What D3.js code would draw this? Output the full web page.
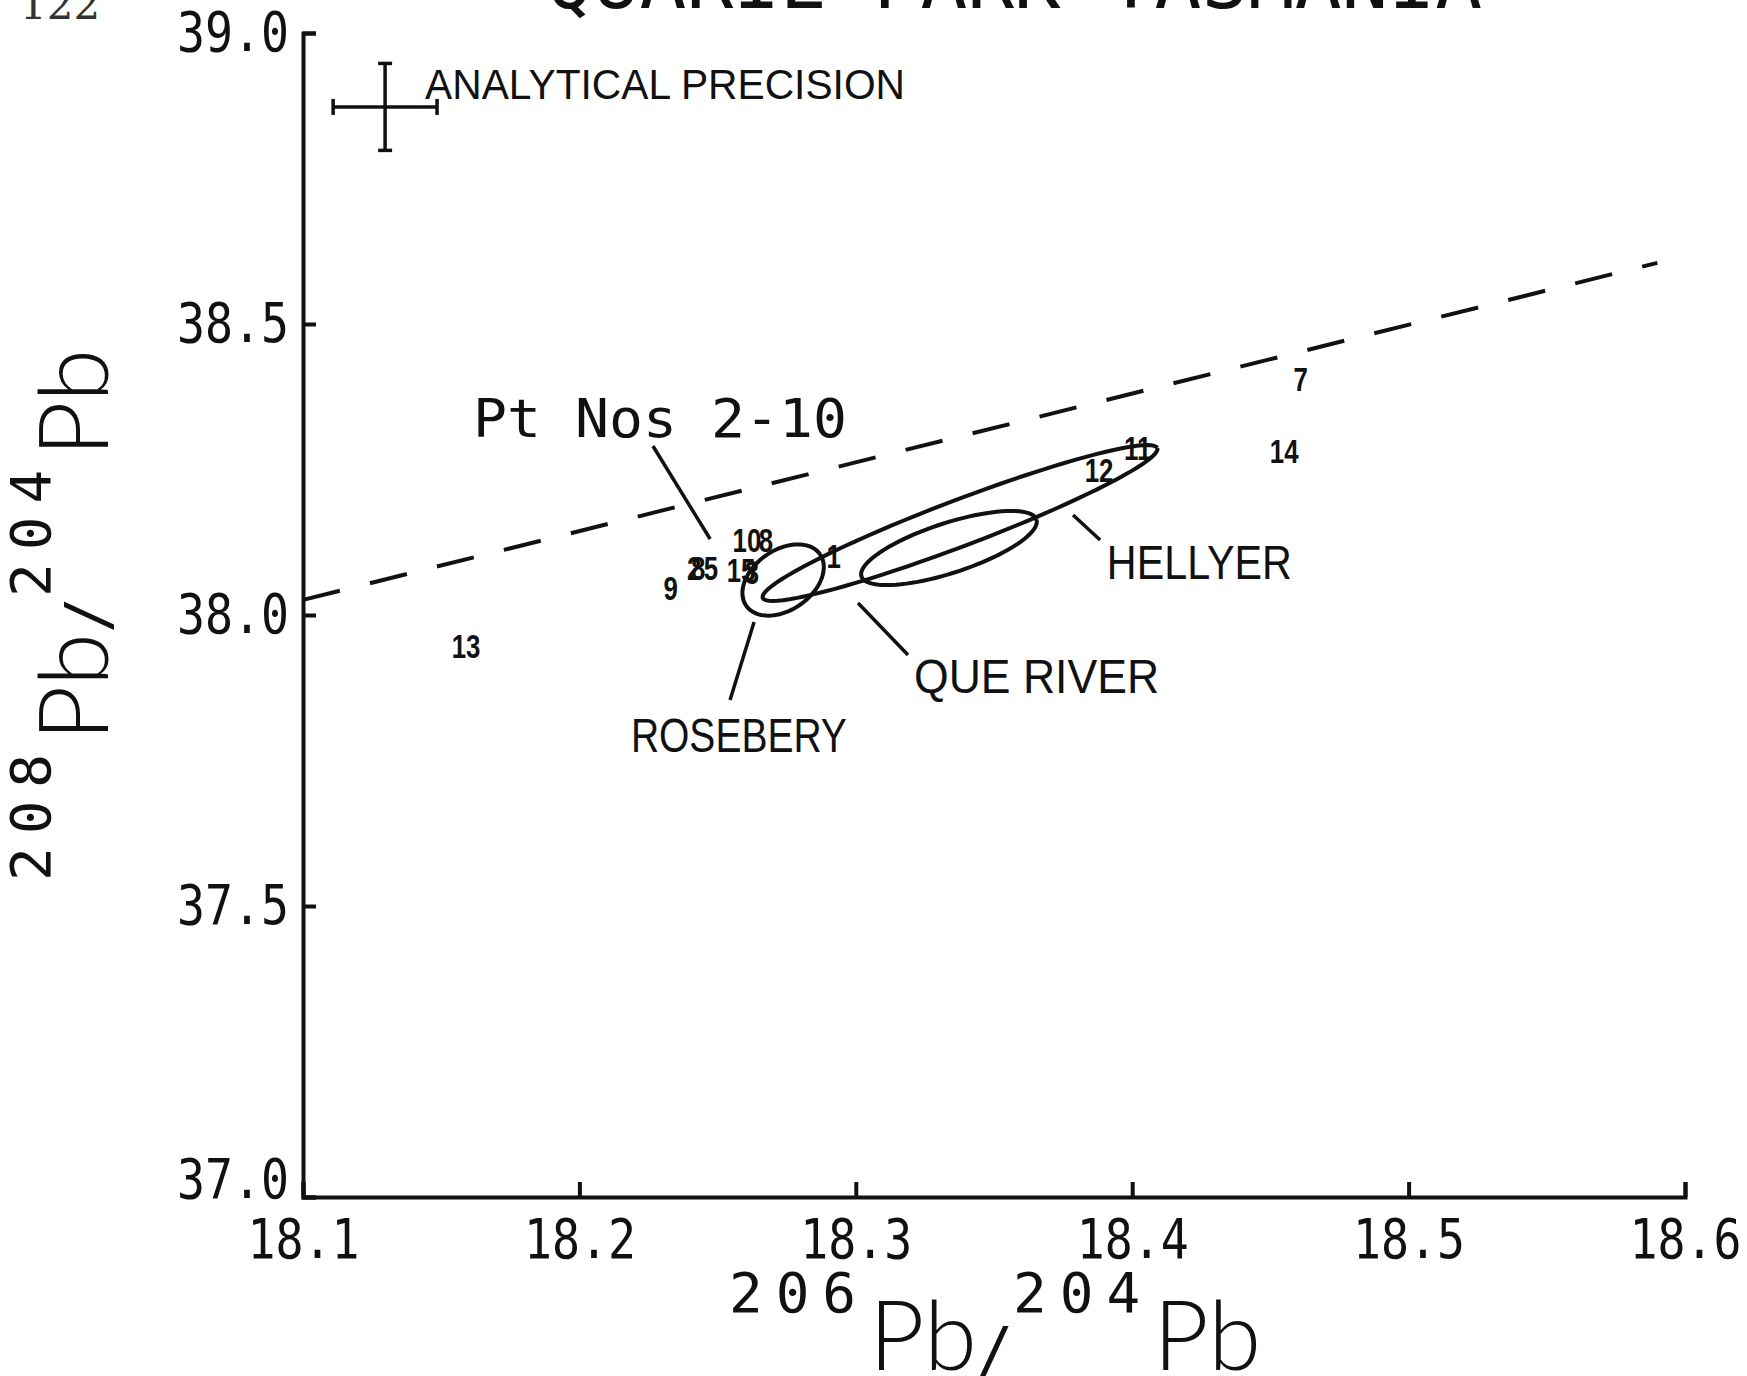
<!DOCTYPE html>
<html>
<head>
<meta charset="utf-8">
<script src="https://cdn.jsdelivr.net/npm/d3@7"></script>
<style>
  html, body { margin: 0; padding: 0; background: #fff; }
  svg { display: block; }
</style>
</head>
<body>
<svg id="chart" width="1747" height="1376"></svg>
<script>
// 208Pb/204Pb vs 206Pb/204Pb, scanned plotter figure

const xTicks = [18.1, 18.2, 18.3, 18.4, 18.5, 18.6]
const yTicks = [37.0, 37.5, 38.0, 38.5, 39.0]

// samples are plotted as their own numbers
const sampleLabels = ['7', '14', '11', '12', '13', '9', '2', '8', '5', '15', '3', '10', '8', '1']
const sampleX = [18.461, 18.455, 18.402, 18.388, 18.159, 18.233, 18.2415, 18.243, 18.2476, 18.2585, 18.2624, 18.2606, 18.2675, 18.292]
const sampleY = [38.406, 38.282, 38.287, 38.249, 37.947, 38.046, 38.081, 38.081, 38.081, 38.077, 38.074, 38.129, 38.129, 38.101]

// deposit fields: centre + major / minor semi-axes, in ratio units
const fieldNames = ['ROSEBERY', 'QUE RIVER', 'HELLYER']
const fieldCx = [18.2737, 18.3337, 18.3377]
const fieldCy = [38.0601, 38.1151, 38.1581]
const fieldMajor = [[0.01334, 0.04435], [0.03166, 0.04885], [0.07138, 0.12869]]
const fieldMinor = [[0.00623, -0.04222], [0.0028, -0.04086], [0.00296, -0.03694]]

// dashed reference line
const refLineX = [18.1, 18.59]
const refLineY = [38.026, 38.605]

// analytical precision cross
const precision = { x: 18.1297, y: 38.873, dx: 0.0188, dy: 0.0747 }

// field / group labels with leaders (ratio units)
const noteText = ['ROSEBERY', 'QUE RIVER', 'HELLYER', 'Pt Nos 2-10']
const noteX = [18.2577, 18.3654, 18.4243, 18.2292]
const noteY = [37.7646, 37.866, 38.0619, 38.3058]
const leaderFrom = [[18.2632, 37.988], [18.3008, 38.0206], [18.3786, 38.1718], [18.2266, 38.2904]]
const leaderTo = [[18.2545, 37.854], [18.3189, 37.9313], [18.3884, 38.1289], [18.2473, 38.1306]]

const W = 1747,
  H = 1376
const MARGINS = { top: 33, right: 62, bottom: 179, left: 303 }
const MONO = "'DejaVu Sans Mono', 'Liberation Mono', monospace"
const SANS = "'Liberation Sans', 'DejaVu Sans', sans-serif"
const THIN = "Lato, Roboto, 'DejaVu Sans', sans-serif"
const INK = '#111'

const svg = d3.select('#chart')

const x = d3
  .scaleLinear()
  .domain([18.1, 18.6])
  .range([MARGINS.left, W - MARGINS.right])

const y = d3
  .scaleLinear()
  .domain([37, 39])
  .range([H - MARGINS.bottom, MARGINS.top])

// title, mostly cut off by the page edge
svg
  .append('text')
  .attr('x', 546)
  .attr('y', 8)
  .attr('font-family', MONO)
  .attr('font-size', 78)
  .attr('textLength', 936)
  .attr('lengthAdjust', 'spacingAndGlyphs')
  .attr('fill', INK)
  .text('QUARIE PARK TASMANIA')

// page number fragment
svg
  .append('text')
  .attr('x', 20)
  .attr('y', 19)
  .attr('font-family', "'DejaVu Serif', serif")
  .attr('font-size', 42)
  .attr('fill', '#333')
  .text('122')

// axes
const xAxis = svg
  .append('g')
  .attr('transform', 'translate(0,' + y.range()[0] + ')')
  .call(
    d3
      .axisBottom(x)
      .tickValues(xTicks)
      .tickSize(-15)
      .tickPadding(21)
      .tickFormat(d3.format('.1f'))
  )

const yAxis = svg
  .append('g')
  .attr('transform', 'translate(' + x.range()[0] + ',0)')
  .call(
    d3
      .axisLeft(y)
      .tickValues(yTicks)
      .tickSize(-13)
      .tickPadding(14)
      .tickFormat(d3.format('.1f'))
  )

;[xAxis, yAxis].forEach((g) => {
  g.select('.domain').attr('stroke', INK).attr('stroke-width', 4)
  g.selectAll('.tick line').attr('stroke', INK).attr('stroke-width', 4)
  g.selectAll('.tick text')
    .attr('font-family', MONO)
    .attr('font-size', 56)
    .attr('fill', INK)
    .attr('textLength', 112)
    .attr('lengthAdjust', 'spacingAndGlyphs')
})

// 37.0 sits on the x axis line
yAxis
  .selectAll('.tick text')
  .filter((d) => d === 37)
  .attr('dy', '0')

// axis titles with superscript mass numbers
function addIso(g, first) {
  const t = g
    .append('text')
    .attr('text-anchor', 'middle')
    .attr('font-family', MONO)
    .attr('fill', INK)
  t.append('tspan').attr('font-size', 56).attr('dy', -58).attr('letter-spacing', 13).text(first)
  t.append('tspan').attr('font-size', 96).attr('font-family', THIN).attr('font-weight', 300).attr('dy', 58).text('Pb')
  t.append('tspan').attr('font-size', 60).attr('dy', 0).text('/')
  t.append('tspan').attr('font-size', 56).attr('dy', -58).attr('letter-spacing', 13).text('204')
  t.append('tspan').attr('font-size', 96).attr('font-family', THIN).attr('font-weight', 300).attr('dy', 58).text('Pb')
}

addIso(svg.append('g').attr('transform', 'translate(995,1370)'), '206')
addIso(svg.append('g').attr('transform', 'translate(108,615) rotate(-90)'), '208')

// dashed reference line
svg
  .append('path')
  .datum(refLineX.map((v, i) => [v, refLineY[i]]))
  .attr('d', d3.line().x((d) => x(d[0])).y((d) => y(d[1])))
  .attr('fill', 'none')
  .attr('stroke', INK)
  .attr('stroke-width', 4)
  .attr('stroke-dasharray', '38,31')

// deposit fields
const theta = d3.range(0, 361, 4).map((a) => (a * Math.PI) / 180)
const ellipse = d3
  .line()
  .x((d) => x(d[0]))
  .y((d) => y(d[1]))

fieldNames.forEach((name, i) => {
  const pts = theta.map((t) => [
    fieldCx[i] + Math.cos(t) * fieldMajor[i][0] + Math.sin(t) * fieldMinor[i][0],
    fieldCy[i] + Math.cos(t) * fieldMajor[i][1] + Math.sin(t) * fieldMinor[i][1]
  ])
  svg
    .append('path')
    .datum(pts)
    .attr('d', ellipse)
    .attr('fill', 'none')
    .attr('stroke', INK)
    .attr('stroke-width', 4)
})

// leaders + labels
noteText.forEach((txt, i) => {
  svg
    .append('line')
    .attr('x1', x(leaderFrom[i][0]))
    .attr('y1', y(leaderFrom[i][1]))
    .attr('x2', x(leaderTo[i][0]))
    .attr('y2', y(leaderTo[i][1]))
    .attr('stroke', INK)
    .attr('stroke-width', 3.5)
})

const noteWidth = [216, 245, 185, 374]
svg
  .selectAll('text.note')
  .data(noteText)
  .enter()
  .append('text')
  .attr('class', 'note')
  .attr('x', (d, i) => x(noteX[i]))
  .attr('y', (d, i) => y(noteY[i]))
  .attr('text-anchor', 'middle')
  .attr('font-family', (d, i) => (i === 3 ? MONO : SANS))
  .attr('font-size', (d, i) => (i === 3 ? 54 : 48))
  .attr('textLength', (d, i) => noteWidth[i])
  .attr('lengthAdjust', 'spacingAndGlyphs')
  .attr('fill', INK)
  .text((d) => d)

// sample numbers
svg
  .selectAll('text.sample')
  .data(sampleLabels)
  .enter()
  .append('text')
  .attr('class', 'sample')
  .attr('transform', (d, i) => 'translate(' + x(sampleX[i]) + ',' + y(sampleY[i]) + ') scale(0.76,1)')
  .attr('text-anchor', 'middle')
  .attr('dy', '0.36em')
  .attr('font-family', SANS)
  .attr('font-weight', 'bold')
  .attr('font-size', 34)
  .attr('fill', INK)
  .text((d) => d)

// analytical precision
const cross = svg.append('g').attr('stroke', INK).attr('stroke-width', 3.5)
const cx = x(precision.x),
  cy = y(precision.y)
const xl = x(precision.x - precision.dx),
  xr = x(precision.x + precision.dx)
const yt = y(precision.y + precision.dy),
  yb = y(precision.y - precision.dy)
cross.append('line').attr('x1', xl).attr('x2', xr).attr('y1', cy).attr('y2', cy)
cross.append('line').attr('x1', cx).attr('x2', cx).attr('y1', yt).attr('y2', yb)
cross.append('line').attr('x1', xl).attr('x2', xl).attr('y1', cy - 8).attr('y2', cy + 8)
cross.append('line').attr('x1', xr).attr('x2', xr).attr('y1', cy - 8).attr('y2', cy + 8)
cross.append('line').attr('x1', cx - 7).attr('x2', cx + 7).attr('y1', yt).attr('y2', yt)
cross.append('line').attr('x1', cx - 7).attr('x2', cx + 7).attr('y1', yb).attr('y2', yb)

svg
  .append('text')
  .attr('x', xr - 12)
  .attr('y', yt + 36)
  .attr('font-family', SANS)
  .attr('font-size', 42)
  .attr('textLength', 480)
  .attr('lengthAdjust', 'spacingAndGlyphs')
  .attr('fill', INK)
  .text('ANALYTICAL PRECISION')
</script>
</body>
</html>
